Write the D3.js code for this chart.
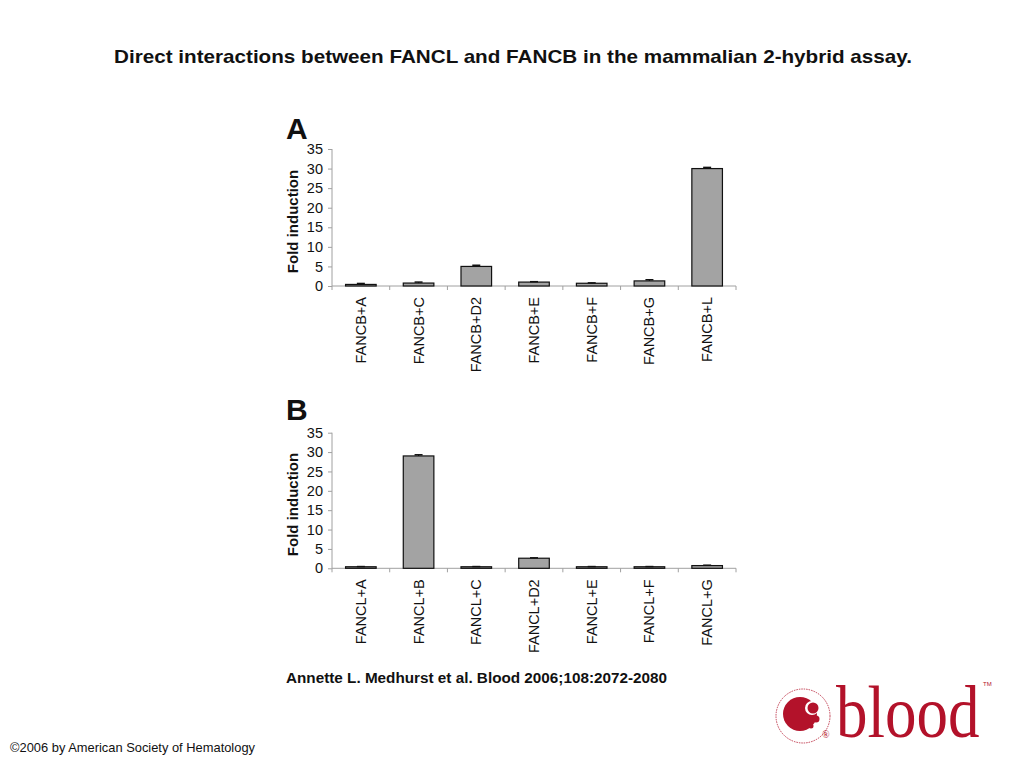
<!DOCTYPE html>
<html><head><meta charset="utf-8">
<script src="https://cdn.jsdelivr.net/npm/d3@7"></script>
<style>body{margin:0;background:#fff;} svg{display:block;}</style>
</head><body>
<svg id="c" width="1024" height="768"></svg>
<script>
const categoriesA = ["FANCB+A","FANCB+C","FANCB+D2","FANCB+E","FANCB+F","FANCB+G","FANCB+L"];
const valuesA = [0.4, 0.75, 5.0, 1.0, 0.7, 1.3, 30.0];
const errorsA = [0.25, 0.25, 0.3, 0.1, 0.1, 0.3, 0.3];
const categoriesB = ["FANCL+A","FANCL+B","FANCL+C","FANCL+D2","FANCL+E","FANCL+F","FANCL+G"];
const valuesB = [0.4, 29.0, 0.4, 2.6, 0.4, 0.4, 0.7];
const errorsB = [0.05, 0.3, 0.05, 0.1, 0.05, 0.05, 0.1];
const yTicks = [0,5,10,15,20,25,30,35];

const svg = d3.select("#c");
const font = "'Liberation Sans', Arial, sans-serif";

svg.append("text").attr("x",114).attr("y",63).attr("textLength",798).attr("lengthAdjust","spacingAndGlyphs")
  .attr("font-family",font).attr("font-weight","bold").attr("font-size",19).attr("fill","#111").text("Direct interactions between FANCL and FANCB in the mammalian 2-hybrid assay.");

function panel(letter, cats, vals, errs, y0, y35, letterY){
  const g = svg.append("g");
  const x = d3.scaleBand().domain(cats).range([332,736]).padding(0);
  const y = d3.scaleLinear().domain([0,35]).range([y0,y35]);
  const axisCol = "#a0a0a0";
  g.append("line").attr("x1",332).attr("x2",332).attr("y1",y(0)).attr("y2",y(35)).attr("stroke",axisCol);
  const yAx = g.append("g").attr("transform","translate(332,0)").call(d3.axisLeft(y).tickValues(yTicks).tickSize(4).tickPadding(5));
  yAx.select(".domain").remove();
  yAx.selectAll("line").attr("stroke",axisCol);
  yAx.selectAll("text").attr("font-family",font).attr("font-size",14.5).attr("fill","#111");
  g.append("line").attr("x1",332).attr("x2",736).attr("y1",y(0)).attr("y2",y(0)).attr("stroke",axisCol);
  const bounds = cats.map(c=>x(c)).concat([x(cats[cats.length-1])+x.bandwidth()]);
  g.selectAll(".xt").data(bounds).enter().append("line").attr("x1",d=>d).attr("x2",d=>d)
    .attr("y1",y(0)).attr("y2",y(0)+4).attr("stroke",axisCol);
  const bw = x.bandwidth()*0.53;
  g.selectAll(".bar").data(cats).enter().append("rect")
    .attr("x",(c)=>x(c)+x.bandwidth()/2-bw/2).attr("width",bw)
    .attr("y",(c,i)=>y(vals[i])).attr("height",(c,i)=>y(0)-y(vals[i]))
    .attr("fill","#a3a3a3").attr("stroke","#111").attr("stroke-width",1.2);
  g.selectAll(".eb").data(cats).enter().append("line")
    .attr("x1",c=>x(c)+x.bandwidth()/2).attr("x2",c=>x(c)+x.bandwidth()/2)
    .attr("y1",(c,i)=>y(vals[i])).attr("y2",(c,i)=>y(vals[i]+errs[i])).attr("stroke","#111").attr("stroke-width",1.2);
  g.selectAll(".ec").data(cats).enter().append("line")
    .attr("x1",c=>x(c)+x.bandwidth()/2-4).attr("x2",c=>x(c)+x.bandwidth()/2+4)
    .attr("y1",(c,i)=>y(vals[i]+errs[i])).attr("y2",(c,i)=>y(vals[i]+errs[i])).attr("stroke","#111").attr("stroke-width",1.5);
  g.selectAll(".xl").data(cats).enter().append("text")
    .attr("transform",c=>`translate(${x(c)+x.bandwidth()/2+5},${y(0)+11}) rotate(-90)`)
    .attr("text-anchor","end").attr("font-family",font).attr("font-size",14.5).attr("fill","#111").text(c=>c);
  g.append("text").attr("transform",`translate(298,${(y(0)+y(35))/2+4}) rotate(-90)`).attr("text-anchor","middle")
    .attr("font-family",font).attr("font-weight","bold").attr("font-size",15).attr("fill","#111").text("Fold induction");
  g.append("text").attr("x",286).attr("y",letterY).attr("font-family",font).attr("font-weight","bold").attr("font-size",30).attr("fill","#111").text(letter);
}
panel("A", categoriesA, valuesA, errorsA, 286, 149, 139);
panel("B", categoriesB, valuesB, errorsB, 568.3, 432.7, 420);

svg.append("text").attr("x",286).attr("y",683).attr("textLength",381).attr("lengthAdjust","spacingAndGlyphs")
  .attr("font-family",font).attr("font-weight","bold").attr("font-size",14.5).attr("fill","#111").text("Annette L. Medhurst et al. Blood 2006;108:2072-2080");
svg.append("text").attr("x",10).attr("y",752).attr("textLength",245).attr("lengthAdjust","spacingAndGlyphs")
  .attr("font-family",font).attr("font-size",13).attr("fill","#111").text("©2006 by American Society of Hematology");

const red = "#b3122a";
const lg = svg.append("g");
lg.append("circle").attr("cx",803).attr("cy",716).attr("r",27).attr("fill","none").attr("stroke",red).attr("stroke-width",0.8).attr("stroke-dasharray","1.5 1");
lg.append("circle").attr("cx",800).attr("cy",714).attr("r",17).attr("fill",red);
lg.append("circle").attr("cx",812).attr("cy",708).attr("r",7).attr("fill","#fff");
lg.append("circle").attr("cx",813).attr("cy",708).attr("r",5.5).attr("fill",red);
lg.append("circle").attr("cx",816).attr("cy",719).attr("r",3.5).attr("fill",red);
lg.append("circle").attr("cx",811).attr("cy",726).attr("r",2.5).attr("fill",red);
lg.append("text").attr("x",822).attr("y",738).attr("font-family","'Liberation Serif','DejaVu Serif',serif").attr("font-size",10).attr("fill",red).text("®");
lg.append("text").attr("transform","translate(836,737) scale(1,1.17)")
  .attr("font-family","'Liberation Serif',serif").attr("font-size",63).attr("fill",red).text("blood");
lg.append("text").attr("x",983).attr("y",686).attr("font-family",font).attr("font-size",6).attr("fill",red).text("TM");
</script>
</body></html>
